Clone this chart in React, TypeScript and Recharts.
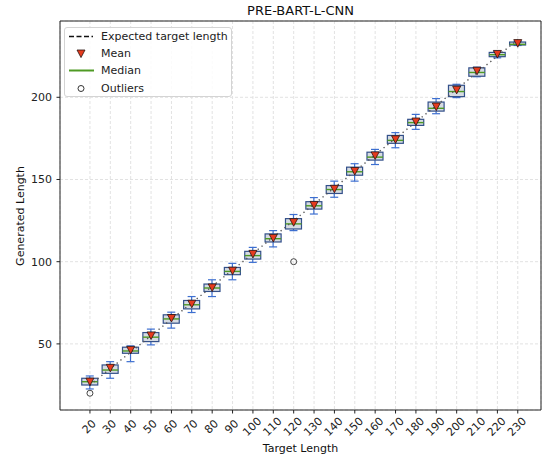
import React from "react";
import {
  ComposedChart,
  Bar,
  Line,
  Scatter,
  XAxis,
  YAxis,
  CartesianGrid,
  ReferenceArea,
  Legend,
} from "recharts";

const FONT = "'DejaVu Sans', sans-serif";

// values
const targets = [20, 30, 40, 50, 60, 70, 80, 90, 100, 110, 120, 130, 140, 150, 160, 170, 180, 190, 200, 210, 220, 230];
const q1 = [25.0, 32.1, 44.3, 51.4, 62.6, 71.3, 81.9, 92.1, 101.6, 112.0, 119.9, 132.0, 141.5, 152.6, 161.8, 172.0, 182.9, 191.6, 200.4, 212.8, 224.7, 231.8];
const q3 = [29.1, 37.2, 48.0, 56.9, 67.7, 76.4, 86.4, 96.5, 106.3, 116.9, 126.2, 136.5, 146.3, 157.5, 166.6, 176.8, 186.6, 197.1, 207.3, 217.9, 227.3, 233.6];
const medians = [27.0, 34.1, 45.7, 54.1, 65.2, 73.8, 84.0, 94.1, 103.7, 114.0, 123.0, 134.0, 143.9, 154.7, 163.6, 173.8, 184.6, 193.3, 203.5, 215.1, 225.9, 232.2];
const means = [27.0, 35.4, 46.3, 55.1, 65.7, 74.4, 84.3, 94.5, 104.7, 114.4, 124.0, 134.5, 144.3, 155.1, 164.6, 174.4, 185.2, 194.3, 204.5, 216.1, 226.3, 232.9];
const whiskerLow = [22.6, 29.1, 39.2, 49.4, 59.6, 69.1, 78.8, 89.0, 99.6, 109.0, 118.9, 129.0, 139.2, 149.0, 159.1, 169.3, 180.5, 190.0, 199.8, 212.5, 224.0, 231.5];
const whiskerHigh = [30.5, 39.2, 48.8, 59.0, 69.3, 78.8, 89.0, 99.0, 108.7, 118.9, 128.7, 139.0, 149.0, 159.6, 168.3, 178.5, 189.6, 199.2, 207.9, 218.3, 228.0, 234.0];
const expected = [25, 35, 45, 55, 65, 75, 85, 95, 105, 115, 125, 135, 145, 155, 165, 175, 185, 195, 205, 215, 225, 235];

const outlierTargets = [20, 120];
const outlierValues = [20, 100];

const yTicks = [50, 100, 150, 200];

const rows = targets.map((t, i) => ({
  target: t,
  q1: q1[i],
  q3: q3[i],
  median: medians[i],
  mean: means[i],
  wlo: whiskerLow[i],
  whi: whiskerHigh[i],
  expected: expected[i],
}));

const outliers = outlierTargets.map((t, i) => ({ target: t, value: outlierValues[i] }));

const BoxShape = (props: any) => {
  const { x, y, width, height, payload } = props;
  if (x == null || y == null) return null;
  const top = Math.min(y, y + height);
  const bottom = Math.max(y, y + height);
  const span = payload.whi - payload.wlo || 1;
  const py = (v: number) => bottom - ((v - payload.wlo) / span) * (bottom - top);
  const cx = x + width / 2;
  const yq1 = py(payload.q1);
  const yq3 = py(payload.q3);
  const ym = py(payload.median);
  return (
    <g>
      <line x1={cx} x2={cx} y1={top} y2={yq3} stroke="#3d6fd0" strokeWidth={1.2} />
      <line x1={cx} x2={cx} y1={yq1} y2={bottom} stroke="#3d6fd0" strokeWidth={1.2} />
      <line x1={cx - 4} x2={cx + 4} y1={top} y2={top} stroke="#3d6fd0" strokeWidth={1.2} />
      <line x1={cx - 4} x2={cx + 4} y1={bottom} y2={bottom} stroke="#3d6fd0" strokeWidth={1.2} />
      <rect
        x={x}
        y={yq3}
        width={width}
        height={Math.max(yq1 - yq3, 0.5)}
        fill="#d6dbe2"
        stroke="#33508a"
        strokeWidth={1.2}
      />
      <line x1={x} x2={x + width} y1={ym} y2={ym} stroke="#4f9a24" strokeWidth={1.4} />
    </g>
  );
};

const MeanShape = (props: any) => {
  const { cx, cy } = props;
  if (cx == null || cy == null) return null;
  return (
    <path
      d={`M${cx - 4},${cy - 3.6} L${cx + 4},${cy - 3.6} L${cx},${cy + 4} Z`}
      fill="#e63b1e"
      stroke="#2a1410"
      strokeWidth={0.8}
    />
  );
};

const OutlierShape = (props: any) => {
  const { cx, cy } = props;
  if (cx == null || cy == null) return null;
  return <circle cx={cx} cy={cy} r={3} fill="none" stroke="#444" strokeWidth={1} />;
};

const XTick = (props: any) => {
  const { x, y, payload } = props;
  return (
    <g transform={`translate(${x},${y})`}>
      <text
        transform="translate(-1,13) rotate(-45)"
        textAnchor="middle"
        dy="0.35em"
        fontSize={11}
        fontFamily={FONT}
        fill="#222"
      >
        {payload.value}
      </text>
    </g>
  );
};

const legendItems = [
  { label: "Expected target length", kind: "dash" },
  { label: "Mean", kind: "mean" },
  { label: "Median", kind: "median" },
  { label: "Outliers", kind: "outlier" },
];

const LegendBox = () => (
  <div
    style={{
      width: 168,
      height: 70,
      boxSizing: "border-box",
      border: "1px solid #d4d4d4",
      borderRadius: 3,
      background: "rgba(255,255,255,0.85)",
      fontFamily: FONT,
      fontSize: 11,
      color: "#222",
    }}
  >
    {legendItems.map((it) => (
      <div key={it.label} style={{ height: 17.2, display: "flex", alignItems: "center" }}>
        <svg width={36} height={17} style={{ flex: "none" }}>
          {it.kind === "dash" && (
            <line x1={4} x2={28} y1={8.5} y2={8.5} stroke="#111" strokeWidth={1.5} strokeDasharray="5 2.5" />
          )}
          {it.kind === "mean" && (
            <path d="M12,5 L20,5 L16,12.6 Z" fill="#e63b1e" stroke="#2a1410" strokeWidth={0.8} />
          )}
          {it.kind === "median" && <line x1={4} x2={29} y1={8.5} y2={8.5} stroke="#4f9a24" strokeWidth={2} />}
          {it.kind === "outlier" && <circle cx={16} cy={8.5} r={3} fill="none" stroke="#333" strokeWidth={1} />}
        </svg>
        <span style={{ whiteSpace: "nowrap" }}>{it.label}</span>
      </div>
    ))}
  </div>
);

export default function App() {
  return (
    <div style={{ position: "absolute", left: 0, top: 0, width: 542, height: 457, background: "#fff" }}>
      <div
        style={{
          position: "absolute",
          left: 60,
          width: 481,
          top: 2,
          height: 18,
          lineHeight: "18px",
          textAlign: "center",
          fontFamily: FONT,
          fontSize: 13,
          color: "#111",
        }}
      >
        PRE-BART-L-CNN
      </div>
      <div
        style={{
          position: "absolute",
          left: 60,
          width: 481,
          top: 441,
          height: 16,
          lineHeight: "16px",
          textAlign: "center",
          fontFamily: FONT,
          fontSize: 11,
          color: "#111",
        }}
      >
        Target Length
      </div>
      <div
        style={{
          position: "absolute",
          left: 20,
          top: 216,
          transform: "translate(-50%, -50%) rotate(-90deg)",
          whiteSpace: "nowrap",
          fontFamily: FONT,
          fontSize: 11,
          color: "#111",
        }}
      >
        Generated Length
      </div>
      <ComposedChart
        width={542}
        height={457}
        data={rows}
        margin={{ top: 21, right: 1, bottom: 0, left: 0 }}
        style={{ position: "absolute", left: 0, top: 0 }}
      >
        <CartesianGrid stroke="#e2e2e2" strokeDasharray="3 2" />
        <XAxis
          dataKey="target"
          type="number"
          domain={[5.3, 241.4]}
          allowDataOverflow
          ticks={targets}
          interval={0}
          height={47}
          axisLine={false}
          tickLine={{ stroke: "#222" }}
          tickSize={3.5}
          tickMargin={0}
          tick={<XTick />}
        />
        <YAxis
          type="number"
          domain={[9.8, 246.4]}
          allowDataOverflow
          ticks={yTicks}
          width={60}
          axisLine={false}
          tickLine={{ stroke: "#222" }}
          tickSize={3.5}
          tickMargin={4.5}
          tick={{ fontSize: 11, fontFamily: FONT, fill: "#222" }}
        />
        <Line
          dataKey="expected"
          type="linear"
          stroke="#555"
          strokeWidth={1.4}
          strokeDasharray="1.3 3.6"
          dot={false}
          activeDot={false}
          isAnimationActive={false}
        />
        <Bar
          dataKey={(d: any) => [d.wlo, d.whi]}
          barSize={16}
          shape={<BoxShape />}
          isAnimationActive={false}
        />
        <Scatter dataKey="mean" shape={<MeanShape />} isAnimationActive={false} />
        <Scatter data={outliers} dataKey="value" shape={<OutlierShape />} isAnimationActive={false} />
        <ReferenceArea
          x1={5.3}
          x2={241.4}
          y1={9.8}
          y2={246.4}
          fill="none"
          stroke="#222"
          strokeWidth={1}
          ifOverflow="visible"
        />
        <Legend
          layout="vertical"
          align="center"
          verticalAlign="middle"
          content={<LegendBox />}
          wrapperStyle={{ left: 64, top: 27, width: 168 }}
        />
      </ComposedChart>
    </div>
  );
}
